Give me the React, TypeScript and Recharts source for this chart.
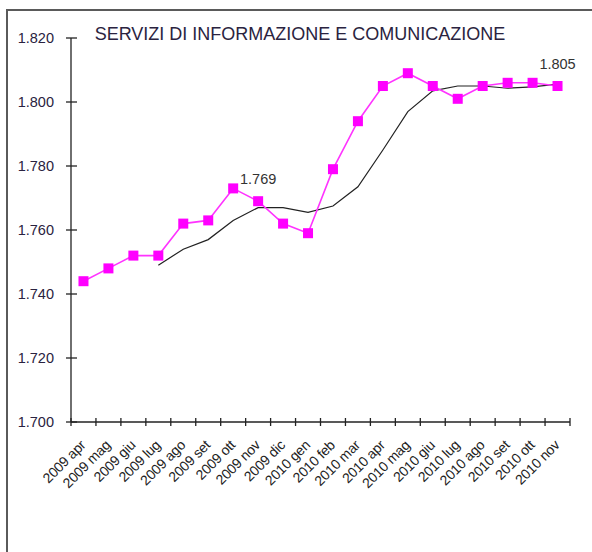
import React from "react";
import { LineChart, Line, XAxis, YAxis, LabelList } from "recharts";

const categories = [
  "2009 apr", "2009 mag", "2009 giu", "2009 lug", "2009 ago", "2009 set", "2009 ott",
  "2009 nov", "2009 dic", "2010 gen", "2010 feb", "2010 mar", "2010 apr", "2010 mag",
  "2010 giu", "2010 lug", "2010 ago", "2010 set", "2010 ott", "2010 nov",
];
const occupati = [1744, 1748, 1752, 1752, 1762, 1763, 1773, 1769, 1762, 1759, 1779, 1794, 1805, 1809, 1805, 1801, 1805, 1806, 1806, 1805];
const mediaMobile = [null, null, null, 1749, 1754, 1757, 1763, 1767, 1767, 1765.5, 1767.5, 1773.5, 1785, 1797, 1803.5, 1805, 1805, 1804.3, 1804.7, 1805.6];
const etichette = [null, null, null, null, null, null, null, "1.769", null, null, null, null, null, null, null, null, null, null, null, "1.805"];
const yTicks = [1700, 1720, 1740, 1760, 1780, 1800, 1820];
const title = "SERVIZI DI INFORMAZIONE E COMUNICAZIONE";

const data = categories.map((c, i) => ({
  cat: c,
  v: occupati[i],
  m: mediaMobile[i],
  lbl: etichette[i],
}));

const fmt = (v: number) => {
  const s = String(Math.round(v));
  return s.slice(0, s.length - 3) + "." + s.slice(s.length - 3);
};

const FONT = "'Liberation Sans', Arial, sans-serif";

const YTick = (props: any) => {
  const { x, y, payload } = props;
  return (
    <g>
      <line x1={x - 5} x2={x + 6} y1={y} y2={y} stroke="#222" strokeWidth={1.3} />
      <text x={x - 17} y={y + 5} textAnchor="end" fontSize={14.5} fontFamily={FONT} fill="#2a2340">
        {fmt(payload.value)}
      </text>
    </g>
  );
};

const XTick = (props: any) => {
  const { x, y, payload, index, visibleTicksCount, width } = props;
  const bw = width && visibleTicksCount ? width / visibleTicksCount : 24.95;
  const last = index === visibleTicksCount - 1;
  const tx = x + 3;
  const ty = y + 24;
  return (
    <g>
      <line x1={x - bw / 2} x2={x - bw / 2} y1={y - 4} y2={y + 4} stroke="#222" strokeWidth={1.3} />
      {last ? <line x1={x + bw / 2} x2={x + bw / 2} y1={y - 4} y2={y + 4} stroke="#222" strokeWidth={1.3} /> : null}
      <text x={tx} y={ty} transform={`rotate(-45, ${tx}, ${ty})`} textAnchor="end" fontSize={14} letterSpacing={-0.2} fontFamily={FONT} fill="#222">
        {payload.value}
      </text>
    </g>
  );
};

const SquareDot = (props: any) => {
  const { cx, cy } = props;
  if (cx == null || cy == null) return null;
  return <rect x={cx - 5} y={cy - 5} width={10} height={10} fill="#FF00FF" />;
};

export default function App() {
  return (
    <div style={{ position: "absolute", left: 0, top: 0, width: 592, height: 552, overflow: "hidden", background: "#fff" }}>
      <div
        style={{
          position: "absolute",
          left: 6,
          top: 9,
          width: 800,
          height: 800,
          borderTop: "2px solid #5a5a5a",
          borderLeft: "2px solid #5a5a5a",
        }}
      />
      <div
        style={{
          position: "absolute",
          left: 0,
          width: 600,
          top: 23,
          textAlign: "center",
          fontFamily: FONT,
          fontSize: 18,
          color: "#2a2340",
          lineHeight: "22px",
          whiteSpace: "nowrap",
        }}
      >
        {title}
      </div>
      <div style={{ position: "absolute", left: 0, top: 0 }}>
        <LineChart width={592} height={552} data={data} margin={{ top: 38, right: 22, bottom: 0, left: 0 }}>
          <XAxis
            dataKey="cat"
            scale="band"
            height={130}
            interval={0}
            tickSize={0}
            tickMargin={0}
            tickLine={false}
            axisLine={{ stroke: "#222", strokeWidth: 1.3 }}
            tick={<XTick />}
          />
          <YAxis
            width={71}
            domain={[1700, 1820]}
            ticks={yTicks}
            interval={0}
            tickSize={0}
            tickMargin={0}
            tickLine={false}
            axisLine={{ stroke: "#222", strokeWidth: 1.3 }}
            tick={<YTick />}
            allowDataOverflow
          />
          <Line
            dataKey="m"
            stroke="#222"
            strokeWidth={1.2}
            dot={false}
            activeDot={false}
            isAnimationActive={false}
            connectNulls={false}
          />
          <Line
            dataKey="v"
            stroke="#FF33FF"
            strokeWidth={1.6}
            dot={<SquareDot />}
            activeDot={false}
            isAnimationActive={false}
          >
            <LabelList dataKey="lbl" position="top" offset={17} fontSize={14.5} fontFamily={FONT} fill="#333" />
          </Line>
        </LineChart>
      </div>
    </div>
  );
}
